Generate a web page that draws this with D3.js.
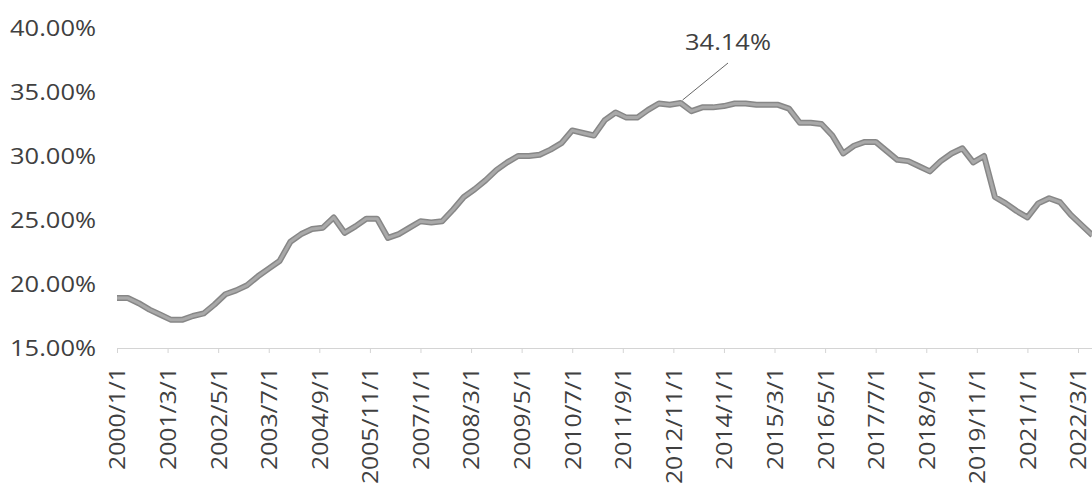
<!DOCTYPE html>
<html>
    <head>
        <script src="https://cdnjs.cloudflare.com/ajax/libs/d3/7.8.5/d3.min.js"></script>
        <title>Ratio 2000-2022</title>

        <style>
            html, body {
                margin: 0;
                background-color: #ffffff;
            }

            .svg_canvas {
                display: block;
            }

            .axis_text {
                font-family: "Open Sans", sans-serif;
                fill: #404040;
            }
        </style>
    </head>
    <body>
        <svg width="1092" height="484" class="svg_canvas"></svg>

        <script>

            // quarterly points
            var dates = [
                "2000/1/1","2000/4/1","2000/7/1","2000/10/1",
                "2001/1/1","2001/4/1","2001/7/1","2001/10/1",
                "2002/1/1","2002/4/1","2002/7/1","2002/10/1",
                "2003/1/1","2003/4/1","2003/7/1","2003/10/1",
                "2004/1/1","2004/4/1","2004/7/1","2004/10/1",
                "2005/1/1","2005/4/1","2005/7/1","2005/10/1",
                "2006/1/1","2006/4/1","2006/7/1","2006/10/1",
                "2007/1/1","2007/4/1","2007/7/1","2007/10/1",
                "2008/1/1","2008/4/1","2008/7/1","2008/10/1",
                "2009/1/1","2009/4/1","2009/7/1","2009/10/1",
                "2010/1/1","2010/4/1","2010/7/1","2010/10/1",
                "2011/1/1","2011/4/1","2011/7/1","2011/10/1",
                "2012/1/1","2012/4/1","2012/7/1","2012/10/1",
                "2013/1/1","2013/4/1","2013/7/1","2013/10/1",
                "2014/1/1","2014/4/1","2014/7/1","2014/10/1",
                "2015/1/1","2015/4/1","2015/7/1","2015/10/1",
                "2016/1/1","2016/4/1","2016/7/1","2016/10/1",
                "2017/1/1","2017/4/1","2017/7/1","2017/10/1",
                "2018/1/1","2018/4/1","2018/7/1","2018/10/1",
                "2019/1/1","2019/4/1","2019/7/1","2019/10/1",
                "2020/1/1","2020/4/1","2020/7/1","2020/10/1",
                "2021/1/1","2021/4/1","2021/7/1","2021/10/1",
                "2022/1/1","2022/4/1","2022/7/1"
            ];

            var values = [
                18.9, 18.9, 18.5, 18.0,
                17.6, 17.2, 17.2, 17.5,
                17.7, 18.4, 19.2, 19.5,
                19.9, 20.6, 21.2, 21.8,
                23.3, 23.9, 24.3, 24.4,
                25.2, 24.0, 24.5, 25.1,
                25.1, 23.6, 23.9, 24.4,
                24.9, 24.8, 24.9, 25.8,
                26.8, 27.4, 28.1, 28.9,
                29.5, 30.0, 30.0, 30.1,
                30.5, 31.0, 32.0, 31.8,
                31.6, 32.8, 33.4, 33.0,
                33.0, 33.6, 34.1, 34.0,
                34.14, 33.5, 33.8, 33.8,
                33.9, 34.1, 34.1, 34.0,
                34.0, 34.0, 33.7, 32.6,
                32.6, 32.5, 31.6, 30.2,
                30.8, 31.1, 31.1, 30.4,
                29.7, 29.6, 29.2, 28.8,
                29.6, 30.2, 30.6, 29.5,
                30.0, 26.8, 26.3, 25.7,
                25.2, 26.3, 26.7, 26.4,
                25.4, 24.6, 23.8
            ];

            var tickLabels = [
                "2000/1/1","2001/3/1","2002/5/1","2003/7/1","2004/9/1",
                "2005/11/1","2007/1/1","2008/3/1","2009/5/1","2010/7/1",
                "2011/9/1","2012/11/1","2014/1/1","2015/3/1","2016/5/1",
                "2017/7/1","2018/9/1","2019/11/1","2021/1/1","2022/3/1"
            ];

            var yTicks = [15, 20, 25, 30, 35, 40];

            var note = { date: "2013/1/1", value: 34.14, text: "34.14%" };

            function monthIndex(s) {
                var p = s.split("/");
                return (+p[0] - 2000) * 12 + (+p[1] - 1);
            }

            var svg = d3.select(".svg_canvas");

            var axisY = 348;
            var x = d3.scaleLinear()
                .domain([0, 272])
                .range([117, 117 + 272 * (961 / 266)]);
            var y = d3.scaleLinear()
                .domain([15, 40])
                .range([axisY, 28]);

            // x axis
            var xAxis = d3.axisBottom(x)
                .tickValues(tickLabels.map(monthIndex))
                .tickFormat(function(d, i){ return tickLabels[i]; })
                .tickSize(5)
                .tickSizeOuter(0);

            var gx = svg.append("g")
                .attr("transform", "translate(0," + axisY + ")")
                .call(xAxis);

            gx.select(".domain").attr("stroke", "#d4d4d4");
            gx.selectAll(".tick line").attr("stroke", "#d4d4d4");

            var xText = gx.selectAll(".tick text")
                .attr("class", "axis_text")
                .style("font-size", "22px")
                .attr("text-anchor", "end")
                .attr("x", 0)
                .attr("y", 0)
                .attr("dy", "0.36em");

            var kx = 103 / xText.node().getComputedTextLength();
            xText.attr("transform", "translate(0,19) rotate(-90) scale(" + kx + ",1)");

            // y labels
            var yText = svg.append("g")
                .selectAll("text")
                .data(yTicks)
                .enter()
                .append("text")
                .attr("class", "axis_text")
                .style("font-size", "21px")
                .attr("text-anchor", "end")
                .attr("dy", "0.36em")
                .text(function(d){ return d.toFixed(2) + "%"; });

            var ky = 86 / yText.node().getComputedTextLength();
            yText.attr("transform", function(d){
                return "translate(96," + y(d) + ") scale(" + ky + ",1)";
            });

            // the series line
            var points = dates.map(function(d, i){
                return { m: monthIndex(d), v: values[i] };
            });

            var line = d3.line()
                .x(function(d){ return x(d.m); })
                .y(function(d){ return y(d.v); });

            svg.append("path")
                .datum(points)
                .attr("d", line)
                .attr("fill", "none")
                .attr("stroke", "#878787")
                .attr("stroke-width", 6)
                .attr("stroke-linejoin", "round");

            svg.append("path")
                .datum(points)
                .attr("d", line)
                .attr("fill", "none")
                .attr("stroke", "#a9a9a9")
                .attr("stroke-width", 3)
                .attr("stroke-linejoin", "round");

            // data label with leader line
            var px = x(monthIndex(note.date));
            var py = y(note.value);

            svg.append("line")
                .attr("x1", px + 2)
                .attr("y1", py - 3)
                .attr("x2", 728)
                .attr("y2", 63)
                .attr("stroke", "#666666")
                .attr("stroke-width", 1);

            var noteText = svg.append("text")
                .attr("class", "axis_text")
                .style("font-size", "21px")
                .attr("text-anchor", "middle")
                .attr("dy", "0.36em")
                .text(note.text);
            noteText.attr("transform", "translate(728,42) scale(" + ky + ",1)");

        </script>
    </body>
</html>
